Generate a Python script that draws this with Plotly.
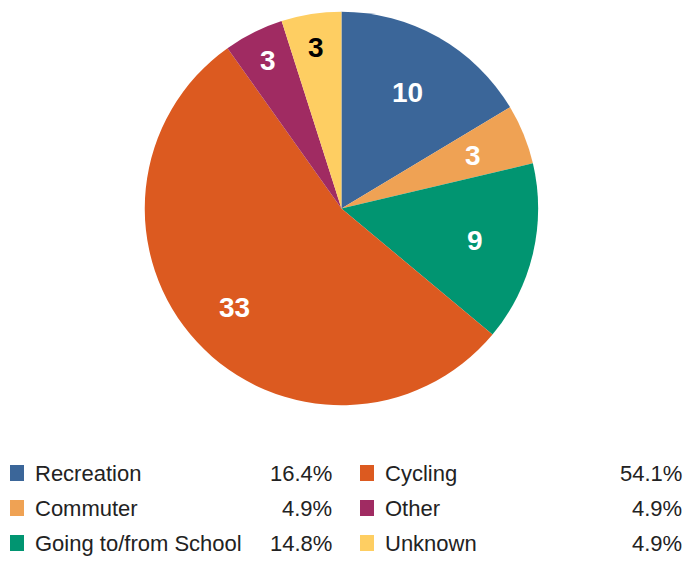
import math
import plotly.graph_objects as go

labels = ["Recreation", "Commuter", "Going to/from School", "Cycling", "Other", "Unknown"]
values = [10, 3, 9, 33, 3, 3]
colors = ["#3B6699", "#EFA254", "#019571", "#DC5A20", "#A02B62", "#FECE62"]
text_colors = ["white", "white", "white", "white", "white", "black"]
label_radius = [0.68, 0.72, 0.70, 0.74, 0.84, 0.83]  # fraction of pie radius for value labels

total = sum(values)
pcts = [f"{v / total * 100:.1f}%" for v in values]

W, H = 686, 562
dom_x = [0.2085, 0.787]
dom_y = [0.279, 0.979]

fig = go.Figure(go.Pie(
    labels=labels,
    values=values,
    sort=False,
    direction="clockwise",
    rotation=0,
    marker=dict(colors=colors, line=dict(width=0)),
    textinfo="none",
    domain=dict(x=dom_x, y=dom_y),
    showlegend=False,
    hoverinfo="label+value+percent",
))

FONT = "Liberation Sans, Arial, sans-serif"
annotations = []
shapes = []

# value labels inside slices, placed at each slice's mid-angle
cx = (dom_x[0] + dom_x[1]) / 2 * W
cy = (dom_y[0] + dom_y[1]) / 2 * H  # from bottom
R = min((dom_x[1] - dom_x[0]) * W, (dom_y[1] - dom_y[0]) * H) / 2
cum = 0
for i, v in enumerate(values):
    theta = (cum + v / 2) / total * 2 * math.pi
    cum += v
    r = R * label_radius[i]
    px = cx + r * math.sin(theta)
    py = cy + r * math.cos(theta)
    annotations.append(dict(x=px / W, y=py / H, xref="paper", yref="paper",
                            text=f"<b>{v}</b>", showarrow=False,
                            xanchor="center", yanchor="middle",
                            font=dict(family=FONT, size=28, color=text_colors[i])))

# custom legend with percentages
col_x = [(10, 33, 334), (360, 383, 684)]
row_y = [473, 508, 543]
order = [(0, 0, 0), (0, 1, 1), (0, 2, 2), (1, 0, 3), (1, 1, 4), (1, 2, 5)]
for col, row, idx in order:
    sx, tx, px = col_x[col]
    yy = row_y[row]
    shapes.append(dict(type="rect", xref="paper", yref="paper",
                       x0=sx / W, x1=(sx + 14) / W,
                       y0=1 - (yy + 8) / H, y1=1 - (yy - 8) / H,
                       fillcolor=colors[idx], line=dict(width=0)))
    annotations.append(dict(x=tx / W, y=1 - yy / H, xref="paper", yref="paper",
                            text=labels[idx], showarrow=False, xanchor="left", yanchor="middle",
                            font=dict(family=FONT, size=22, color="#222222")))
    annotations.append(dict(x=px / W, y=1 - yy / H, xref="paper", yref="paper",
                            text=pcts[idx], showarrow=False, xanchor="right", yanchor="middle",
                            font=dict(family=FONT, size=22, color="#222222")))

fig.update_layout(
    width=W, height=H,
    margin=dict(l=0, r=0, t=0, b=0),
    paper_bgcolor="white",
    plot_bgcolor="white",
    shapes=shapes,
    annotations=annotations,
)

fig.write_html("out.html", config={"displayModeBar": False},
               post_script="document.body.style.margin='0';document.body.style.overflow='hidden';")
